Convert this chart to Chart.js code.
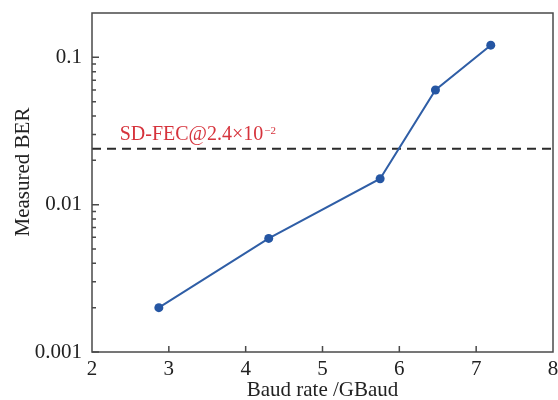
<!DOCTYPE html>
<html>
<head>
<meta charset="utf-8">
<script src="https://cdn.jsdelivr.net/npm/chart.js@4/dist/chart.umd.min.js"></script>
<style>
html,body{margin:0;padding:0;background:#fff;}
#wrap{width:558px;height:400px;}
</style>
</head>
<body>
<div id="wrap"><canvas id="c" width="558" height="400"></canvas></div>
<script>
const baudRate = [2.87, 4.30, 5.75, 6.47, 7.19];
const measuredBER = [0.0020, 0.0059, 0.015, 0.060, 0.121];
const fecThreshold = 0.024;
const fecX = [2, 8];
const xTicks = [2, 3, 4, 5, 6, 7, 8];
const yMajorTicks = [0.001, 0.01, 0.1];
const yMinorTicks = [0.002,0.003,0.004,0.005,0.006,0.007,0.008,0.009,0.02,0.03,0.04,0.05,0.06,0.07,0.08,0.09];
const fecLabel = 'SD-FEC@2.4×10';
const fecLabelSup = '−2';

const FONT = '"Liberation Serif", serif';
const AXIS = '#4a4a4a';

const framePlugin = {
  id: 'frame',
  afterDraw(chart) {
    const {ctx, chartArea: a, scales: {x, y}} = chart;
    ctx.save();
    ctx.strokeStyle = AXIS;
    ctx.lineWidth = 1.5;
    ctx.strokeRect(a.left, a.top, a.right - a.left, a.bottom - a.top);
    ctx.beginPath();
    xTicks.forEach(v => {
      if (v === xTicks[0] || v === xTicks[xTicks.length-1]) return;
      const px = x.getPixelForValue(v);
      ctx.moveTo(px, a.bottom); ctx.lineTo(px, a.bottom - 6);
    });
    yMajorTicks.forEach(v => {
      const py = y.getPixelForValue(v);
      ctx.moveTo(a.left, py); ctx.lineTo(a.left + 7, py);
    });
    yMinorTicks.forEach(v => {
      const py = y.getPixelForValue(v);
      ctx.moveTo(a.left, py); ctx.lineTo(a.left + 4, py);
    });
    ctx.stroke();
    // FEC label
    ctx.fillStyle = '#d6333c';
    ctx.font = '20px ' + FONT;
    ctx.textBaseline = 'alphabetic';
    ctx.textAlign = 'left';
    const lx = x.getPixelForValue(2.36);
    const ly = y.getPixelForValue(fecThreshold) - 9;
    ctx.fillText(fecLabel, lx, ly);
    const w = ctx.measureText(fecLabel).width;
    ctx.font = '11px ' + FONT;
    ctx.fillText(fecLabelSup, lx + w + 1, ly - 6);
    // y title
    ctx.fillStyle = '#222';
    ctx.font = '21px ' + FONT;
    ctx.translate(23, 172);
    ctx.rotate(-Math.PI/2);
    ctx.textAlign = 'center';
    ctx.textBaseline = 'middle';
    ctx.fillText('Measured BER', 0, 0);
    ctx.restore();
  }
};

new Chart(document.getElementById('c'), {
  type: 'scatter',
  data: {
    datasets: [
      {
        data: baudRate.map((v, i) => ({x: v, y: measuredBER[i]})),
        showLine: true,
        borderColor: '#2f5ea6',
        backgroundColor: '#2556a3',
        borderWidth: 2,
        pointRadius: 4.5,
        pointBorderWidth: 0,
        order: 1
      },
      {
        data: fecX.map(v => ({x: v, y: fecThreshold})),
        showLine: true,
        borderColor: '#2a2a2a',
        borderWidth: 2,
        borderDash: [9, 6],
        pointRadius: 0,
        order: 2
      }
    ]
  },
  options: {
    responsive: false,
    animation: false,
    devicePixelRatio: 1,
    layout: {padding: {top: 13, right: 5, left: 0, bottom: 0}},
    plugins: {legend: {display: false}, tooltip: {enabled: false}},
    scales: {
      x: {
        type: 'linear',
        min: 2, max: 8,
        afterBuildTicks(s) { s.ticks = xTicks.map(v => ({value: v})); },
        afterFit(s) { s.height = 48; s.paddingLeft = 0; s.paddingRight = 0; },
        grid: {display: false, drawTicks: false},
        border: {display: false},
        ticks: {color: '#222', font: {family: FONT, size: 21}, padding: 5, maxRotation: 0},
        title: {display: true, text: 'Baud rate /GBaud', color: '#222', font: {family: FONT, size: 21}, padding: {top: 0, bottom: -3}}
      },
      y: {
        type: 'logarithmic',
        min: 0.001, max: 0.2,
        afterBuildTicks(s) { s.ticks = yMajorTicks.map(v => ({value: v})); },
        afterFit(s) { s.width = 92; s.paddingTop = 0; s.paddingBottom = 0; },
        grid: {display: false, drawTicks: false},
        border: {display: false},
        ticks: {color: '#222', font: {family: FONT, size: 21}, padding: 10,
          callback: v => String(v)}
      }
    }
  },
  plugins: [framePlugin]
});
</script>
</body>
</html>
